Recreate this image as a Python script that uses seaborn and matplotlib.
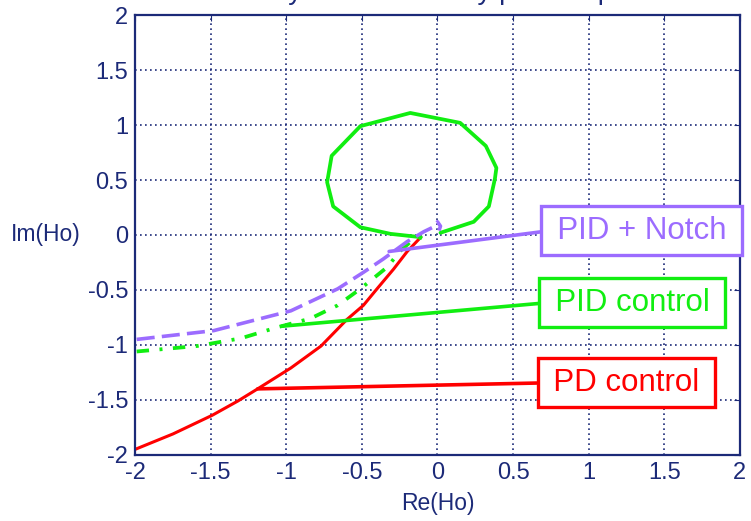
import matplotlib
matplotlib.use("Agg")
import matplotlib.pyplot as plt
import seaborn as sns
import pandas as pd

# ---- data ----
pd_re = [-2.0, -1.75, -1.49, -1.32, -1.19, -0.97, -0.77, -0.60, -0.49, -0.40, -0.29, -0.20, -0.11]
pd_im = [-1.95, -1.81, -1.64, -1.51, -1.40, -1.21, -1.01, -0.77, -0.64, -0.49, -0.31, -0.15, -0.02]

pid_re = [-1.99, -1.59, -1.30, -1.06, -0.84, -0.66, -0.51, -0.33, -0.25, -0.16, -0.09]
pid_im = [-1.06, -1.01, -0.94, -0.84, -0.76, -0.64, -0.49, -0.29, -0.15, -0.04, -0.02]

loop_re = [-0.11, -0.31, -0.51, -0.69, -0.73, -0.70, -0.51, -0.18, 0.15, 0.32, 0.39, 0.38, 0.34, 0.24, 0.02]
loop_im = [-0.02, 0.01, 0.07, 0.26, 0.48, 0.72, 0.99, 1.11, 1.02, 0.81, 0.61, 0.51, 0.26, 0.12, 0.02]

notch_re = [-1.99, -1.48, -0.97, -0.66, -0.49, -0.36, -0.20, -0.09, -0.03, 0.0, 0.02, 0.01]
notch_im = [-0.95, -0.87, -0.69, -0.49, -0.34, -0.22, -0.06, 0.03, 0.07, 0.12, 0.08, 0.04]

labels = ["PID + Notch", "PID control", "PD control"]
label_points = [(-0.32, -0.15), (-1.03, -0.83), (-1.19, -1.40)]
label_pos = [(1.35, 0.04), (1.29, -0.615), (1.25, -1.345)]

x_ticks = [-2, -1.5, -1, -0.5, 0, 0.5, 1, 1.5, 2]
y_ticks = [-2, -1.5, -1, -0.5, 0, 0.5, 1, 1.5, 2]
tick_labels = ["-2", "-1.5", "-1", "-0.5", "0", "0.5", "1", "1.5", "2"]

# ---- styling ----
sns.set_style("white")
plt.rcParams["font.family"] = ["Liberation Sans", "DejaVu Sans"]
navy = "#1c2a78"
RED = "#ff0000"
GREEN = "#11ee11"
PURPLE = "#9c6cff"

fig = plt.figure(figsize=(7.51, 5.21), dpi=100)
ax = fig.add_axes([0.180, 0.127, 0.805, 0.844])

sns.lineplot(x=pd_re, y=pd_im, sort=False, ax=ax, color=RED, lw=2.2, estimator=None)
sns.lineplot(x=pid_re, y=pid_im, sort=False, ax=ax, color=GREEN, lw=2.7, estimator=None)
ax.lines[-1].set_dashes([3.3, 2.8, 0.8, 2.8])
sns.lineplot(x=loop_re, y=loop_im, sort=False, ax=ax, color=GREEN, lw=2.7, estimator=None)
sns.lineplot(x=notch_re, y=notch_im, sort=False, ax=ax, color=PURPLE, lw=2.6, estimator=None)
ax.lines[-1].set_dashes([5, 2])

colors = [PURPLE, GREEN, RED]
for lab, pt, pos, c in zip(labels, label_points, label_pos, colors):
    ax.annotate("\u2009" + lab + "\u2009", xy=pt, xytext=pos, ha="center", va="center",
                fontsize=22.5, color=c,
                bbox=dict(boxstyle="square,pad=0.3", fc="white", ec=c, lw=2.4),
                arrowprops=dict(arrowstyle="-", color=c, lw=2.6,
                                relpos=(0, 0.5), shrinkA=0, shrinkB=0),
                zorder=5)

ax.set_xlim(-2, 2)
ax.set_ylim(-2, 2)
ax.set_xticks(x_ticks)
ax.set_xticklabels(tick_labels)
ax.set_yticks(y_ticks)
ax.set_yticklabels(tick_labels)
ax.grid(True, color=navy, linestyle=(0, (1, 2)), lw=1.2)
ax.tick_params(direction="in", length=4, colors=navy, labelsize=17,
               labelcolor=navy, top=True, right=True, pad=5)
for s in ax.spines.values():
    s.set_color(navy)
    s.set_linewidth(1.6)
    s.set_visible(True)

ax.set_xlabel("Re(Ho)", fontsize=16.5, color=navy, labelpad=6)
ax.set_ylabel("Im(Ho)", fontsize=16.5, color=navy, rotation=0, labelpad=30, va="center")

# title clipped by the top edge of the figure (only descenders visible in the reference)
fig.text(0.545, 1.002, "Stability contour test by pole map", ha="center", va="baseline",
         fontsize=20, color=navy)

fig.savefig("out.png", dpi=100)
